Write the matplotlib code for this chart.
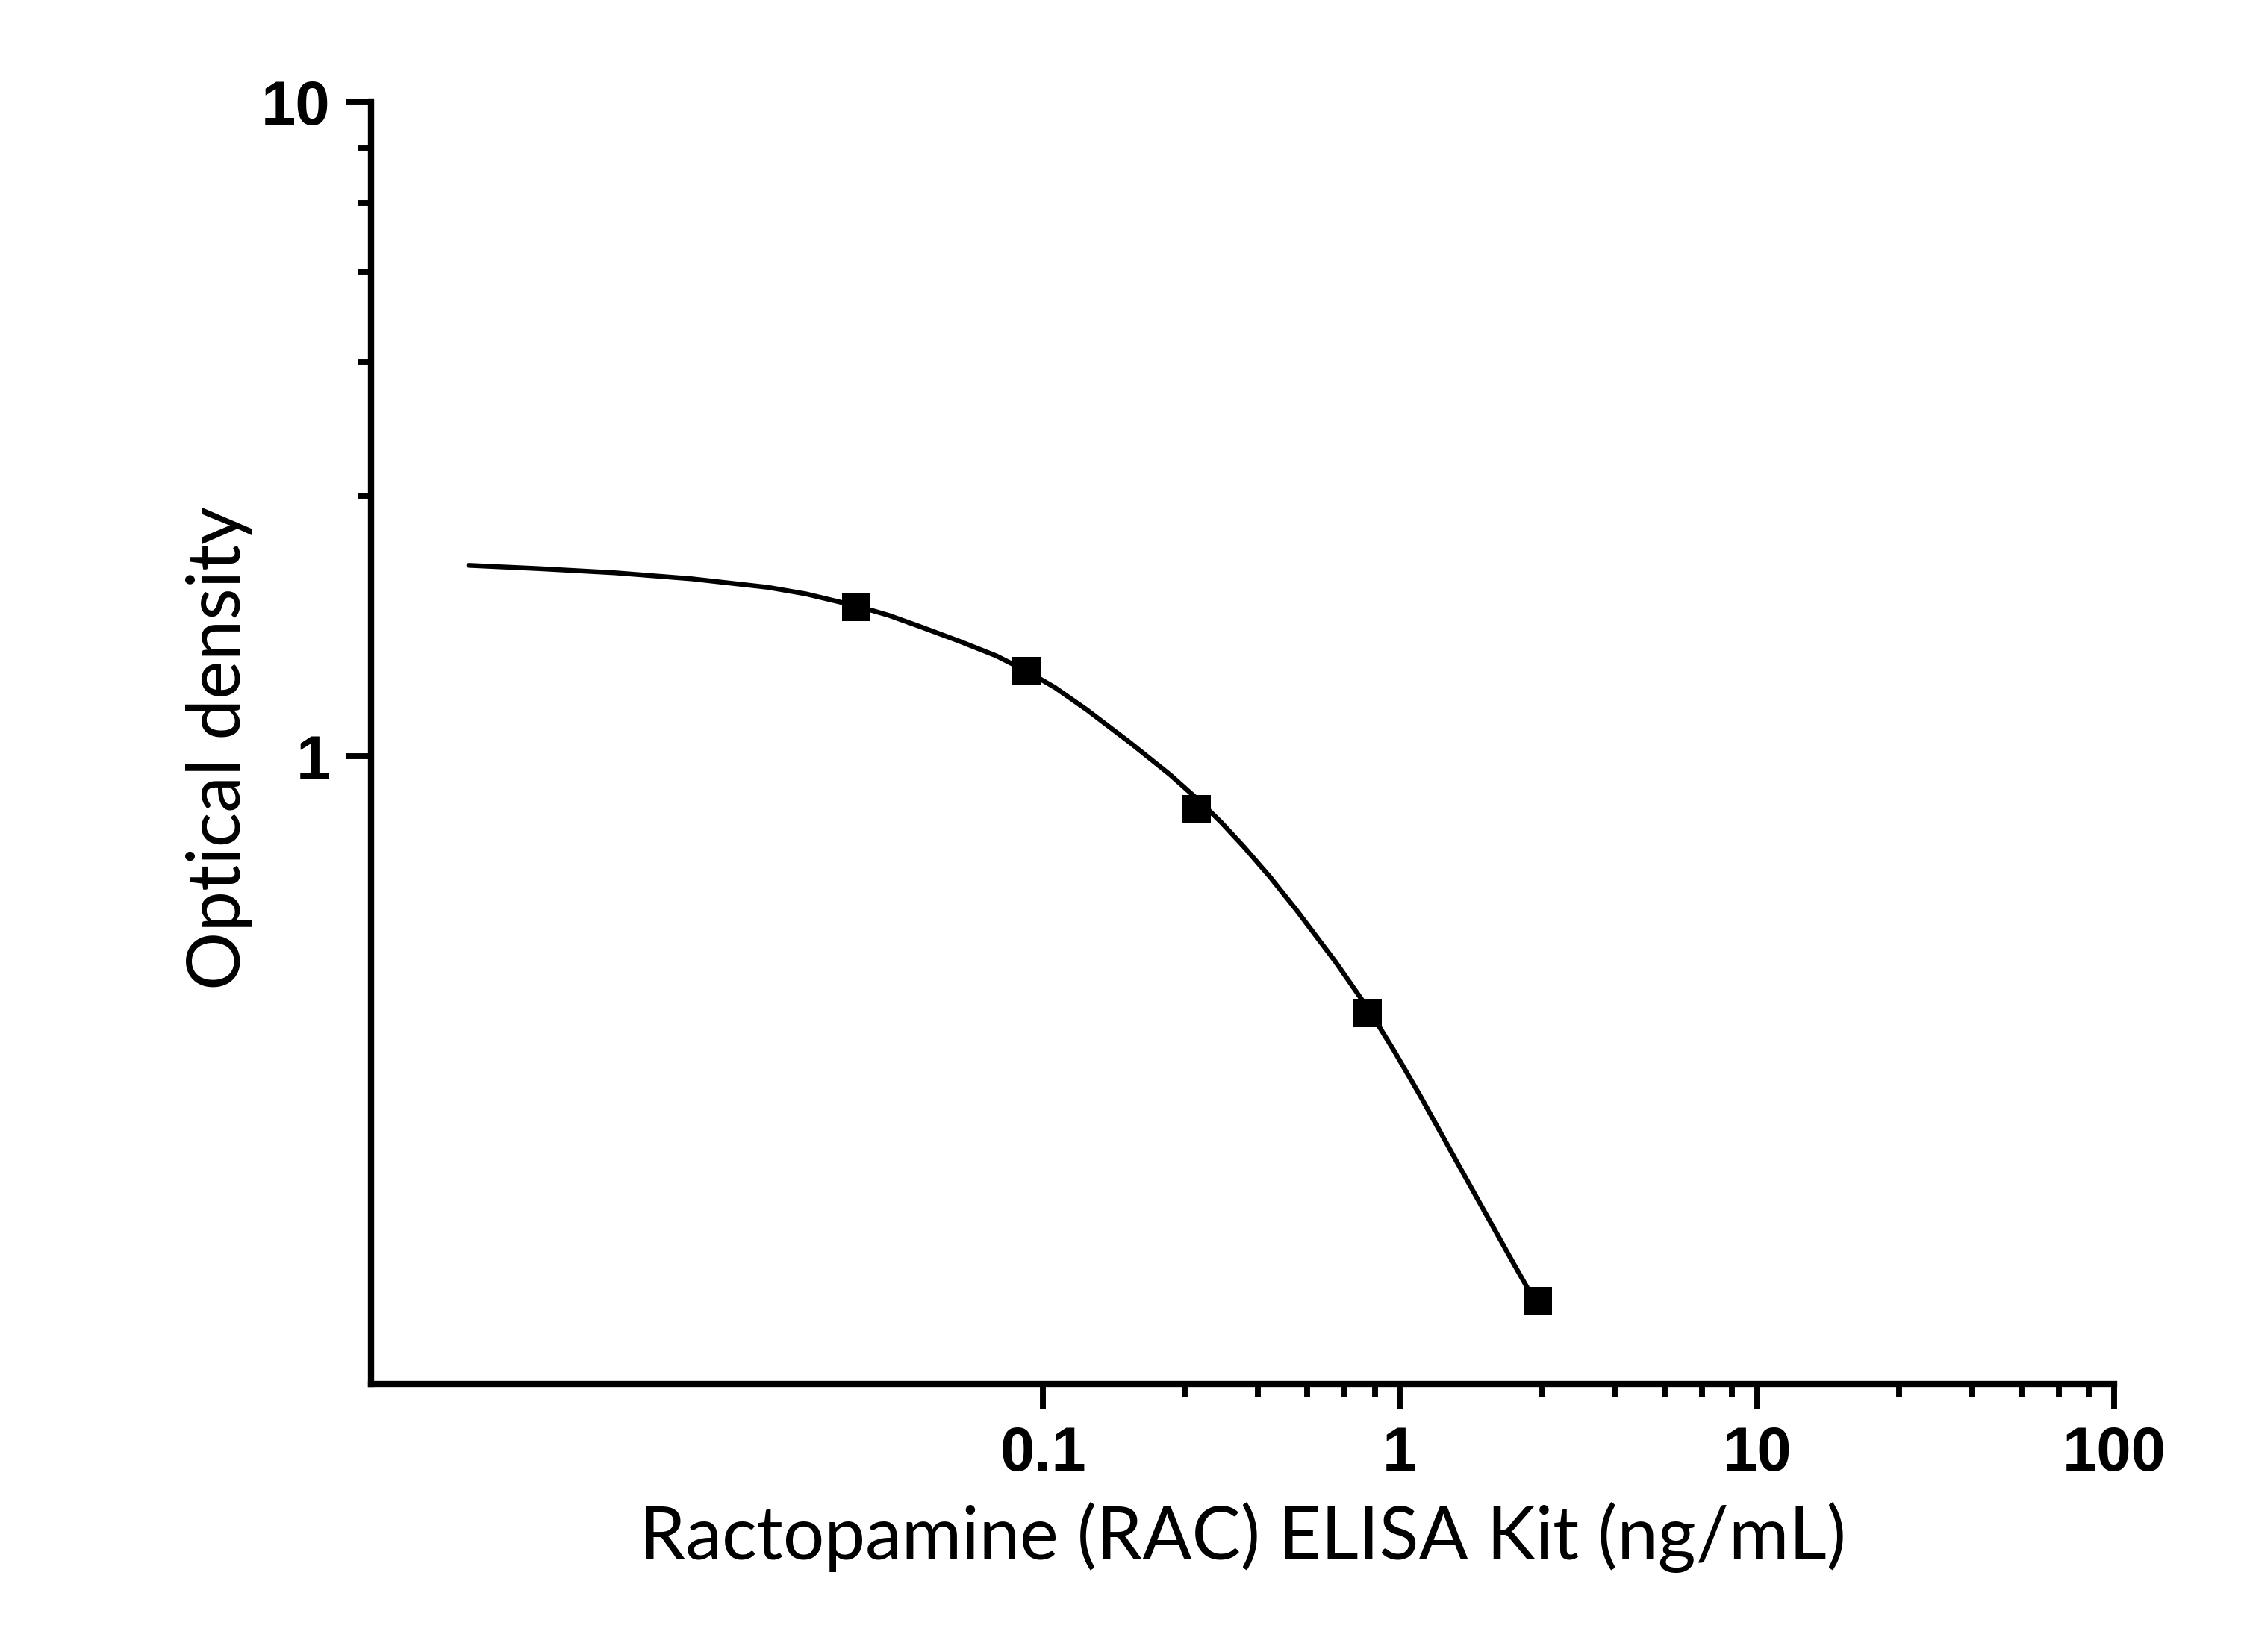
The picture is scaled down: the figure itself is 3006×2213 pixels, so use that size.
import matplotlib
matplotlib.use("Agg")
import matplotlib.pyplot as plt
from matplotlib.ticker import FixedLocator, FixedFormatter, NullFormatter

plt.rcParams["font.family"] = ["Liberation Sans", "DejaVu Sans"]

# ---- data ----
conc = [0.03, 0.09, 0.27, 0.81, 2.43]              # ng/mL
od = [1.692, 1.348, 0.829, 0.405, 0.147]           # optical density

# fitted curve
curve_x = [0.002464, 0.003879, 0.006342, 0.010363, 0.016940, 0.021652,
           0.030162, 0.036921, 0.045226, 0.057849, 0.07394, 0.090392,
           0.10801, 0.13241, 0.17557, 0.22727, 0.27165, 0.31452,
           0.36475, 0.43294, 0.51140, 0.65869, 0.81454, 0.96081,
           1.1356, 1.5648, 2.0292, 2.4446]
curve_y = [1.9567, 1.9343, 1.9061, 1.8665, 1.8114, 1.7701,
           1.6952, 1.6418, 1.5780, 1.5012, 1.4236, 1.3470,
           1.2734, 1.1783, 1.0484, 0.9365, 0.8585, 0.7941,
           0.7279, 0.6534, 0.5832, 0.4857, 0.4112, 0.3554,
           0.3038, 0.2217, 0.1720, 0.1437]

x_major_ticks = [0.1, 1, 10, 100]
x_major_labels = ["0.1", "1", "10", "100"]
x_minor_ticks = [0.25, 0.4, 0.55, 0.7, 0.85, 2.5, 4, 5.5, 7, 8.5,
                 25, 40, 55, 70, 85]
y_major_ticks = [1, 10]
y_major_labels = ["1", "10"]
y_minor_ticks = [2.5, 4, 5.5, 7, 8.5]

x_label = "Ractopamine (RAC) ELISA Kit (ng/mL)"
y_label = "Optical density"

# ---- figure ----
fig = plt.figure(figsize=(3006 / 300, 2213 / 300), dpi=300)
ax = fig.add_axes([0.16534, 0.16200, 0.77678, 0.77654])

ax.plot(curve_x, curve_y, color="black", lw=1.55, solid_capstyle="round",
        solid_joinstyle="round", zorder=2)
ax.plot(conc, od, linestyle="none", marker="s", markersize=9.1,
        markeredgewidth=0, color="black", zorder=3)

ax.set_xscale("log")
ax.set_yscale("log")
ax.set_xlim(10 ** -2.882, 100)
ax.set_ylim(10 ** -0.9595, 10)

ax.xaxis.set_major_locator(FixedLocator(x_major_ticks))
ax.xaxis.set_major_formatter(FixedFormatter(x_major_labels))
ax.xaxis.set_minor_locator(FixedLocator(x_minor_ticks))
ax.xaxis.set_minor_formatter(NullFormatter())
ax.yaxis.set_major_locator(FixedLocator(y_major_ticks))
ax.yaxis.set_major_formatter(FixedFormatter(y_major_labels))
ax.yaxis.set_minor_locator(FixedLocator(y_minor_ticks))
ax.yaxis.set_minor_formatter(NullFormatter())

for s in ["top", "right"]:
    ax.spines[s].set_visible(False)
for s in ["left", "bottom"]:
    ax.spines[s].set_linewidth(2.0)

ax.tick_params(which="major", direction="out", length=8, width=1.9,
               pad=5, labelsize=20, labelfontfamily="Liberation Sans")
ax.tick_params(which="minor", direction="out", length=4, width=1.9)
for lab in ax.get_xticklabels() + ax.get_yticklabels():
    lab.set_fontweight("bold")

ax.set_xlabel(x_label, fontsize=23.5, fontfamily="Lato")
ax.set_ylabel(y_label, fontsize=23.5, fontfamily="Lato")
ax.xaxis.label.set_verticalalignment("baseline")
ax.yaxis.label.set_verticalalignment("baseline")
ax.xaxis.set_label_coords(0.5, -0.1365)
ax.yaxis.set_label_coords(-0.0749, 0.496)

fig.savefig("out.png", dpi=300, facecolor="white")
